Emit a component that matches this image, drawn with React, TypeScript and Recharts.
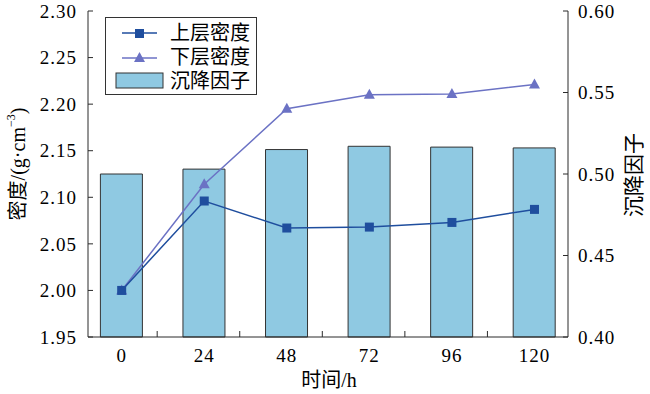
import { ComposedChart, Bar, Line, XAxis, YAxis } from "recharts";

// time points (h)
const hours = ["0", "24", "48", "72", "96", "120"];
// density of the upper / lower layer, g/cm3
const upperDensity = [2.0, 2.096, 2.067, 2.068, 2.073, 2.087];
const lowerDensity = [2.0, 2.114, 2.195, 2.21, 2.211, 2.221];
// settling factor
const settlingFactor = [0.5, 0.503, 0.515, 0.517, 0.5165, 0.516];

const densityTicks = [1.95, 2.0, 2.05, 2.1, 2.15, 2.2, 2.25, 2.3];
const factorTicks = [0.4, 0.45, 0.5, 0.55, 0.6];
// small marks between the categories on the time axis
const boundaryTicks = [0.43, 1.43, 2.43, 3.43, 4.43];

const data = hours.map((h, i) => ({
  idx: i,
  hour: h,
  upper: upperDensity[i],
  lower: lowerDensity[i],
  factor: settlingFactor[i],
}));

const FONT = "Liberation Serif, Times New Roman, Noto Sans CJK SC, serif";
const AXIS = "#2b2b2b";
const UPPER = "#1f4e9e";
const LOWER = "#6b72c4";
const BAR = "#8fc9e2";

function HourTick(props: any) {
  const { x, y, payload } = props;
  const v = payload.value;
  if (Number.isInteger(v)) {
    return (
      <text x={x} y={y + 25} textAnchor="middle" fill="#000" style={{ fontFamily: FONT, fontSize: 19, letterSpacing: 1 }}>
        {hours[v]}
      </text>
    );
  }
  return <line x1={x} x2={x} y1={y} y2={y - 6} stroke={AXIS} />;
}

const SquareDot = (props: any) => {
  const { cx, cy, index } = props;
  return <rect key={"sq" + index} x={cx - 4.5} y={cy - 4.5} width={9} height={9} fill={UPPER} />;
};

const TriangleDot = (props: any) => {
  const { cx, cy, index } = props;
  return (
    <polygon
      key={"tr" + index}
      points={`${cx},${cy - 6} ${cx + 5.5},${cy + 4} ${cx - 5.5},${cy + 4}`}
      fill={LOWER}
    />
  );
};

const LeftLabel = () => (
  <text x={18} y={164} transform="rotate(-90 18 164)" textAnchor="middle" dominantBaseline="central" fill="#000" style={{ fontFamily: FONT, fontSize: 20 }}>
    密度/(g·cm
    <tspan dy={-7} style={{ fontSize: 12 }}>−3</tspan>
    <tspan dy={7}>)</tspan>
  </text>
);

const RightLabel = () => (
  <text x={634} y={175} transform="rotate(-90 634 175)" textAnchor="middle" dominantBaseline="central" fill="#000" style={{ fontFamily: FONT, fontSize: 21 }}>
    沉降因子
  </text>
);

const BottomLabel = () => (
  <text x={329} y={380} textAnchor="middle" dominantBaseline="central" fill="#000" style={{ fontFamily: FONT, fontSize: 20 }}>
    时间/h
  </text>
);

function LegendBox() {
  const row = { display: "flex", alignItems: "center", height: 24 } as const;
  const txt = { fontSize: 20, fontFamily: FONT, color: "#000", lineHeight: "24px" } as const;
  return (
    <div
      style={{
        position: "absolute",
        left: 105,
        top: 17,
        width: 152,
        height: 78,
        border: "1px solid #333",
        background: "#fff",
        paddingTop: 3,
        boxSizing: "border-box",
      }}
    >
      <div style={row}>
        <svg width={64} height={24}>
          <line x1={16} x2={51} y1={12} y2={12} stroke={UPPER} strokeWidth={1.5} />
          <rect x={29} y={8} width={9} height={9} fill={UPPER} />
        </svg>
        <span style={txt}>上层密度</span>
      </div>
      <div style={row}>
        <svg width={64} height={24}>
          <line x1={16} x2={51} y1={13} y2={13} stroke={LOWER} strokeWidth={1.5} />
          <polygon points="33.5,7 39,17 28,17" fill={LOWER} />
        </svg>
        <span style={txt}>下层密度</span>
      </div>
      <div style={row}>
        <svg width={64} height={24}>
          <rect x={10} y={4} width={47} height={15} fill={BAR} stroke="#333" />
        </svg>
        <span style={txt}>沉降因子</span>
      </div>
    </div>
  );
}

const tickStyle = { fill: "#000", fontSize: 19, fontFamily: FONT, letterSpacing: 1 };

export default function App() {
  return (
    <div style={{ position: "absolute", left: 0, top: 0, width: 650, height: 394, background: "#fff", fontFamily: FONT }}>
      <ComposedChart width={650} height={394} data={data} margin={{ top: 11, right: 22, bottom: 17, left: 28 }} style={{ fontFamily: FONT }}>
        <XAxis
          dataKey="idx"
          type="number"
          domain={[-0.408, 5.406]}
          ticks={[0, ...boundaryTicks.flatMap((b, i) => [b, i + 1])]}
          allowDataOverflow
          height={40}
          tickSize={0}
          tickMargin={0}
          tickLine={false}
          stroke={AXIS}
          tick={<HourTick />}
          interval={0}
          label={<BottomLabel />}
        />
        <YAxis
          yAxisId="left"
          orientation="left"
          width={60}
          domain={[1.95, 2.3]}
          ticks={densityTicks}
          interval={0}
          tickFormatter={(v: number) => v.toFixed(2)}
          tickSize={-5}
          tickMargin={16}
          stroke={AXIS}
          tick={tickStyle}
          label={<LeftLabel />}
        />
        <YAxis
          yAxisId="right"
          orientation="right"
          width={60}
          domain={[0.4, 0.6]}
          ticks={factorTicks}
          interval={0}
          tickFormatter={(v: number) => v.toFixed(2)}
          tickSize={-5}
          tickMargin={15}
          stroke={AXIS}
          tick={tickStyle}
          label={<RightLabel />}
        />
        <Bar yAxisId="right" dataKey="factor" barSize={42} fill={BAR} stroke="#333" strokeWidth={1} isAnimationActive={false} />
        <Line
          yAxisId="left"
          dataKey="lower"
          stroke={LOWER}
          strokeWidth={1.5}
          dot={<TriangleDot />}
          activeDot={false}
          isAnimationActive={false}
        />
        <Line
          yAxisId="left"
          dataKey="upper"
          stroke={UPPER}
          strokeWidth={1.5}
          dot={<SquareDot />}
          activeDot={false}
          isAnimationActive={false}
        />
      </ComposedChart>
      <LegendBox />
    </div>
  );
}
